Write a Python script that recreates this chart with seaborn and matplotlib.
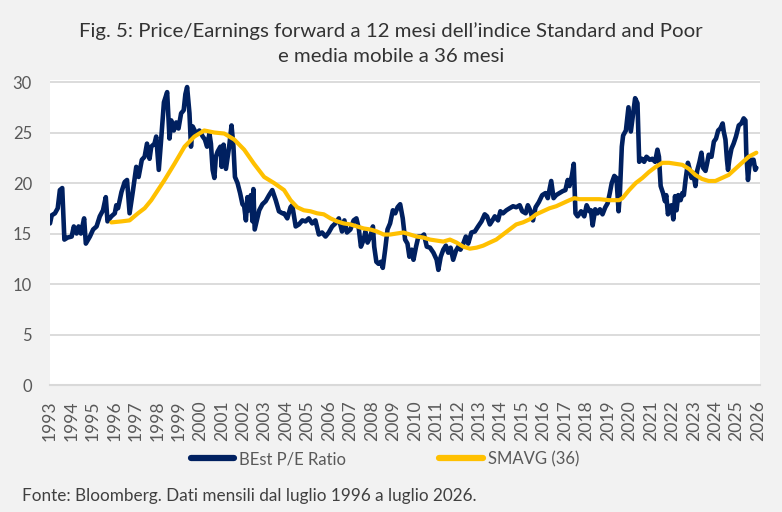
import pandas as pd
import seaborn as sns
import matplotlib.pyplot as plt

# Forward P/E (decimal year, value)
pe_years = [
    1993.00, 1993.08, 1993.23, 1993.36, 1993.46, 1993.57, 1993.67, 1993.82, 1994.01, 1994.11,
    1994.24, 1994.33, 1994.44, 1994.59, 1994.67, 1994.86, 1995.01, 1995.17, 1995.32, 1995.47,
    1995.60, 1995.68, 1995.86, 1996.02, 1996.09, 1996.17, 1996.33, 1996.48, 1996.59, 1996.71,
    1996.87, 1997.02, 1997.13, 1997.28, 1997.41, 1997.52, 1997.64, 1997.72, 1997.87, 1997.95,
    1998.07, 1998.18, 1998.31, 1998.46, 1998.57, 1998.65, 1998.77, 1998.88, 1998.99, 1999.11,
    1999.23, 1999.31, 1999.39, 1999.50, 1999.57, 1999.65, 1999.81, 1999.96, 2000.12, 2000.22,
    2000.32, 2000.43, 2000.50, 2000.58, 2000.66, 2000.73, 2000.81, 2000.94, 2001.00, 2001.09,
    2001.20, 2001.35, 2001.46, 2001.55, 2001.62, 2001.74, 2001.86, 2001.97, 2002.05, 2002.13,
    2002.20, 2002.28, 2002.36, 2002.44, 2002.48, 2002.54, 2002.64, 2002.75, 2002.90, 2003.05,
    2003.21, 2003.36, 2003.52, 2003.67, 2003.83, 2003.91, 2004.06, 2004.21, 2004.29, 2004.45,
    2004.60, 2004.76, 2004.91, 2005.06, 2005.22, 2005.37, 2005.53, 2005.68, 2005.84, 2005.99,
    2006.15, 2006.30, 2006.46, 2006.61, 2006.72, 2006.84, 2007.00, 2007.15, 2007.28, 2007.39,
    2007.49, 2007.62, 2007.70, 2007.80, 2007.93, 2008.05, 2008.11, 2008.21, 2008.31, 2008.42,
    2008.51, 2008.62, 2008.73, 2008.85, 2008.98, 2009.09, 2009.20, 2009.32, 2009.44, 2009.55,
    2009.66, 2009.75, 2009.86, 2009.94, 2010.06, 2010.17, 2010.32, 2010.43, 2010.56, 2010.71,
    2010.87, 2011.02, 2011.10, 2011.21, 2011.33, 2011.45, 2011.56, 2011.67, 2011.79, 2011.92,
    2012.03, 2012.13, 2012.26, 2012.38, 2012.49, 2012.64, 2012.80, 2012.95, 2013.11, 2013.26,
    2013.37, 2013.50, 2013.62, 2013.73, 2013.88, 2013.99, 2014.11, 2014.27, 2014.42, 2014.58,
    2014.73, 2014.89, 2015.01, 2015.17, 2015.27, 2015.38, 2015.51, 2015.63, 2015.78, 2015.94,
    2016.09, 2016.20, 2016.36, 2016.47, 2016.59, 2016.74, 2016.90, 2017.02, 2017.13, 2017.21,
    2017.33, 2017.41, 2017.49, 2017.59, 2017.75, 2017.90, 2018.01, 2018.14, 2018.21, 2018.29,
    2018.41, 2018.52, 2018.63, 2018.75, 2018.88, 2018.99, 2019.09, 2019.18, 2019.30, 2019.40,
    2019.50, 2019.56, 2019.65, 2019.71, 2019.84, 2019.96, 2020.07, 2020.18, 2020.27, 2020.38,
    2020.46, 2020.58, 2020.69, 2020.80, 2020.95, 2021.07, 2021.20, 2021.31, 2021.38, 2021.46,
    2021.57, 2021.66, 2021.72, 2021.80, 2021.88, 2021.97, 2022.05, 2022.13, 2022.20, 2022.28,
    2022.39, 2022.47, 2022.54, 2022.62, 2022.73, 2022.82, 2022.90, 2022.98, 2023.08, 2023.16,
    2023.27, 2023.36, 2023.44, 2023.55, 2023.63, 2023.70, 2023.83, 2023.94, 2024.04, 2024.14,
    2024.24, 2024.35, 2024.40, 2024.48, 2024.55, 2024.60, 2024.66, 2024.76, 2024.86, 2024.97,
    2025.10, 2025.22, 2025.33, 2025.41, 2025.45, 2025.53, 2025.59, 2025.68, 2025.79, 2025.87,
    2025.92,
]
pe_values = [
    16.0, 16.8, 17.0, 17.5, 19.3, 19.5, 14.4, 14.6, 14.7, 15.7,
    15.0, 15.7, 15.0, 16.5, 14.0, 14.7, 15.4, 15.7, 16.7, 17.3,
    18.6, 16.2, 16.7, 17.0, 17.8, 17.5, 19.1, 20.1, 20.3, 17.0,
    19.3, 21.6, 20.6, 22.3, 22.6, 23.9, 22.4, 23.6, 23.9, 24.6,
    21.3, 24.3, 28.0, 29.0, 24.4, 26.2, 25.2, 26.0, 25.4, 26.9,
    27.2, 28.8, 29.5, 26.9, 23.6, 25.6, 24.9, 25.2, 24.6, 24.3,
    23.6, 24.9, 23.9, 21.3, 20.5, 22.6, 23.1, 23.6, 21.6, 23.8,
    21.4, 23.6, 25.7, 23.6, 20.6, 20.0, 19.0, 17.9, 17.7, 16.3,
    18.6, 17.3, 18.8, 16.2, 19.4, 15.4, 16.3, 17.3, 17.9, 18.2,
    18.8, 19.3, 18.3, 17.2, 17.0, 17.0, 16.5, 17.6, 17.8, 15.7,
    15.9, 16.3, 16.2, 16.5, 16.0, 16.3, 14.9, 15.1, 14.7, 15.1,
    15.7, 16.0, 16.5, 15.2, 16.3, 15.1, 15.4, 16.3, 16.5, 15.5,
    13.7, 14.4, 15.2, 14.1, 14.7, 15.7, 13.7, 12.2, 12.0, 12.2,
    11.6, 13.4, 15.4, 16.0, 17.3, 17.0, 17.6, 17.9, 16.5, 14.4,
    14.0, 12.7, 13.4, 12.4, 13.7, 14.7, 14.7, 14.9, 13.7, 13.6,
    13.1, 12.4, 11.4, 12.7, 13.4, 13.8, 13.1, 13.6, 12.4, 13.3,
    13.7, 13.4, 14.0, 14.7, 14.0, 15.1, 15.2, 15.7, 16.2, 16.9,
    16.7, 15.9, 16.3, 16.7, 16.3, 17.2, 17.0, 17.3, 17.5, 17.7,
    17.6, 17.8, 17.2, 17.0, 17.8, 17.3, 16.3, 17.6, 18.1, 18.8,
    19.0, 18.5, 20.2, 18.5, 18.8, 19.0, 19.2, 19.3, 20.3, 19.7,
    20.8, 21.9, 17.0, 16.7, 17.2, 16.7, 17.8, 17.2, 17.3, 15.8,
    17.4, 17.0, 17.4, 16.9, 17.6, 18.0, 19.0, 20.0, 20.7, 20.5,
    17.2, 19.0, 23.6, 24.7, 25.2, 27.5, 25.1, 26.9, 28.4, 27.9,
    22.1, 22.4, 22.1, 22.6, 22.3, 22.4, 22.1, 23.3, 22.6, 19.7,
    19.0, 18.2, 18.8, 16.9, 17.7, 17.8, 16.4, 18.7, 17.3, 18.8,
    18.3, 19.0, 18.8, 20.3, 22.0, 21.3, 20.5, 21.0, 19.7, 21.2,
    22.1, 23.0, 21.5, 21.2, 22.0, 22.8, 22.6, 24.1, 24.4, 25.2,
    25.4, 25.9, 25.1, 24.3, 22.3, 21.3, 22.3, 23.4, 23.9, 24.6,
    25.7, 25.9, 26.4, 26.2, 23.0, 20.3, 21.6, 22.3, 22.3, 21.3,
    21.5,
]

# 36-month moving average
sma_years = [
    1995.86, 1996.33, 1996.71, 1997.10, 1997.41, 1997.72, 1998.03, 1998.34, 1998.80, 1999.27,
    1999.73, 2000.19, 2000.66, 2001.12, 2001.59, 2002.05, 2002.51, 2002.98, 2003.44, 2003.91,
    2004.21, 2004.52, 2004.83, 2005.14, 2005.45, 2005.76, 2006.07, 2006.38, 2006.69, 2007.00,
    2007.31, 2007.62, 2007.93, 2008.24, 2008.55, 2008.86, 2009.16, 2009.47, 2009.78, 2010.09,
    2010.40, 2010.71, 2011.02, 2011.33, 2011.64, 2011.95, 2012.26, 2012.57, 2012.88, 2013.19,
    2013.49, 2013.80, 2014.11, 2014.42, 2014.73, 2015.04, 2015.35, 2015.66, 2015.97, 2016.28,
    2016.59, 2016.90, 2017.21, 2017.44, 2017.67, 2018.14, 2018.60, 2019.06, 2019.53, 2019.68,
    2019.99, 2020.30, 2020.61, 2020.92, 2021.23, 2021.54, 2021.85, 2022.16, 2022.47, 2022.78,
    2023.08, 2023.39, 2023.70, 2024.01, 2024.32, 2024.63, 2024.94, 2025.25, 2025.56, 2025.92,
]
sma_values = [
    16.1, 16.2, 16.3, 17.0, 17.5, 18.3, 19.3, 20.3, 21.9, 23.6,
    24.6, 25.2, 25.0, 24.9, 24.3, 23.3, 21.9, 20.6, 20.0, 19.3,
    18.3, 17.6, 17.3, 17.2, 17.0, 16.9, 16.5, 16.2, 16.0, 15.9,
    15.7, 15.5, 15.4, 15.2, 14.9, 14.9, 15.0, 15.1, 14.9, 14.7,
    14.6, 14.4, 14.3, 14.2, 14.4, 14.1, 13.7, 13.5, 13.6, 13.8,
    14.1, 14.4, 14.9, 15.4, 15.9, 16.1, 16.4, 16.9, 17.2, 17.5,
    17.7, 18.0, 18.3, 18.5, 18.4, 18.4, 18.4, 18.3, 18.3, 18.5,
    19.3, 20.0, 20.5, 21.1, 21.6, 22.0, 22.0, 21.9, 21.8, 21.4,
    20.8, 20.4, 20.2, 20.2, 20.5, 20.8, 21.4, 22.0, 22.6, 23.0,
]

year_ticks = list(range(1993, 2027))
y_ticks = [0, 5, 10, 15, 20, 25, 30]

title = ("Fig. 5: Price/Earnings forward a 12 mesi dell\u2019indice Standard and Poor\n"
         "e media mobile a 36 mesi")
source = "Fonte: Bloomberg. Dati mensili dal luglio 1996 a luglio 2026."

pe_df = pd.DataFrame({"year": pe_years, "value": pe_values})
sma_df = pd.DataFrame({"year": sma_years, "value": sma_values})

sns.set_style("white")
plt.rcParams["font.family"] = ["Lato", "DejaVu Sans"]

fig = plt.figure(figsize=(7.82, 5.12), dpi=100, facecolor="#F2F2F2")
ax = fig.add_axes([50 / 782, 1 - 385 / 512, 710 / 782, 305 / 512])
ax.set_facecolor("white")

sns.lineplot(data=pe_df, x="year", y="value", ax=ax, color="#002060",
             linewidth=3.3, label="BEst P/E Ratio", sort=False)
sns.lineplot(data=sma_df, x="year", y="value", ax=ax, color="#FFC000",
             linewidth=3.0, label="SMAVG (36)", sort=False)

ax.set_xlim(1993, 2026.09)
ax.set_ylim(0, 30.2)
ax.set_xticks(year_ticks)
ax.set_xticklabels([str(y) for y in year_ticks], rotation=90)
ax.set_yticks(y_ticks)
ax.set_xlabel("")
ax.set_ylabel("")

ax.yaxis.grid(True, color="#D9D9D9", linewidth=1.3)
ax.set_axisbelow(True)
for side in ["top", "right", "left"]:
    ax.spines[side].set_visible(False)
ax.spines["bottom"].set_color("#D9D9D9")
ax.spines["bottom"].set_linewidth(1.5)

ax.tick_params(axis="x", direction="out", length=5, width=1.3, color="#D9D9D9",
               labelsize=12.6, labelcolor="#595959", pad=6)
ax.tick_params(axis="y", length=0, labelsize=12, labelcolor="#595959", pad=13)

ax.get_legend().remove()
handles, labels = ax.get_legend_handles_labels()
leg = fig.legend(handles, labels, loc="center", ncol=2,
                 bbox_to_anchor=(385 / 782, 1 - 459 / 512), frameon=False,
                 fontsize=12, handlelength=2.6, handletextpad=0.3,
                 columnspacing=5.6)
for text in leg.get_texts():
    text.set_color("#595959")
for line in leg.get_lines():
    line.set_linewidth(4.5)
    line.set_solid_capstyle("round")

fig.text(0.5, 1 - 43.5 / 512, title, ha="center", va="center", fontsize=14.7,
         color="#333333", linespacing=1.6)
fig.text(22 / 782, 1 - 496 / 512, source, ha="left", va="center",
         fontsize=12.3, color="#404040")

fig.savefig("out.png", dpi=100, facecolor=fig.get_facecolor())
